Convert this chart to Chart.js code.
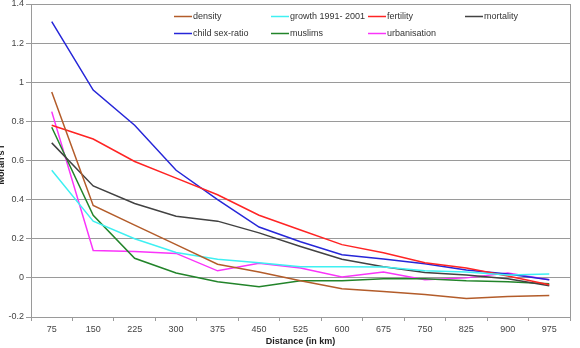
<!DOCTYPE html>
<html>
<head>
<meta charset="utf-8">
<script src="https://cdn.jsdelivr.net/npm/chart.js@4"></script>
<style>
  html, body { margin: 0; padding: 0; background: #fff; }
  canvas { display: block; }
</style>
</head>
<body>
<canvas id="chart" width="580" height="348"></canvas>
<script>
// Distances (km) on the x axis
const distances = ["75", "150", "225", "300", "375", "450", "525", "600", "675", "750", "825", "900", "975"];

// Moran's I per variable
const density       = [0.95, 0.37, 0.27, 0.17, 0.07, 0.03, -0.015, -0.055, -0.07, -0.085, -0.105, -0.095, -0.09];
const growth        = [0.55, 0.29, 0.20, 0.13, 0.095, 0.077, 0.057, 0.057, 0.055, 0.036, 0.03, 0.015, 0.02];
const fertility     = [0.78, 0.71, 0.595, 0.51, 0.425, 0.32, 0.245, 0.17, 0.128, 0.077, 0.05, 0.01, -0.035];
const mortality     = [0.69, 0.47, 0.38, 0.315, 0.29, 0.23, 0.16, 0.095, 0.057, 0.028, 0.015, -0.005, -0.04];
const childSexRatio = [1.31, 0.96, 0.78, 0.55, 0.40, 0.26, 0.185, 0.118, 0.097, 0.072, 0.04, 0.02, -0.01];
const muslims       = [0.77, 0.32, 0.10, 0.025, -0.02, -0.045, -0.015, -0.015, -0.005, -0.005, -0.015, -0.02, -0.03];
const urbanisation  = [0.85, 0.14, 0.135, 0.125, 0.036, 0.075, 0.05, 0.005, 0.03, -0.01, 0.0, 0.025, -0.01];

const yMin = -0.2, yMax = 1.4, yStep = 0.2;

const series = [
  { label: "density",          data: density,       color: "#b35c2a" },
  { label: "growth 1991- 2001", data: growth,       color: "#3ff0f2" },
  { label: "fertility",        data: fertility,     color: "#ff2424" },
  { label: "mortality",        data: mortality,     color: "#424242" },
  { label: "child sex-ratio",  data: childSexRatio, color: "#2626d8" },
  { label: "muslims",          data: muslims,       color: "#22842a" },
  { label: "urbanisation",     data: urbanisation,  color: "#fa34fa" },
];

const GRID = "#9a9a9a";
const FONT = "'Liberation Sans', Arial, sans-serif";

// Legend box drawn inside the plot, top right (like the Excel original)
const legendeInterna = {
  id: "legendeInterna",
  afterDraw(chart) {
    const ctx = chart.ctx;
    const colX = [174, 271, 368, 465];
    const rowY = [16, 33];
    ctx.save();
    ctx.fillStyle = "#fff";
    ctx.fillRect(168, 6, 401, 36);
    ctx.font = "9px " + FONT;
    ctx.textBaseline = "middle";
    ctx.textAlign = "left";
    series.forEach((s, i) => {
      const x = colX[i % 4];
      const y = rowY[Math.floor(i / 4)];
      ctx.strokeStyle = s.color;
      ctx.lineWidth = 1.5;
      ctx.beginPath();
      ctx.moveTo(x, y + 0.5);
      ctx.lineTo(x + 18, y + 0.5);
      ctx.stroke();
      ctx.fillStyle = "#333";
      ctx.fillText(s.label, x + 19, y + 1);
    });
    ctx.restore();
  },
};

// Right border of the plot area + rotated y title (cut at the left edge)
const molduraETitulo = {
  id: "molduraETitulo",
  afterDraw(chart) {
    const { ctx, chartArea: a } = chart;
    ctx.save();
    ctx.strokeStyle = GRID;
    ctx.lineWidth = 1;
    ctx.beginPath();
    ctx.moveTo(Math.round(a.right) + 0.5, a.top);
    ctx.lineTo(Math.round(a.right) + 0.5, a.bottom);
    ctx.stroke();
    ctx.translate(1.5, 165);
    ctx.rotate(-Math.PI / 2);
    ctx.font = "bold 9px " + FONT;
    ctx.fillStyle = "#222";
    ctx.textAlign = "center";
    ctx.textBaseline = "middle";
    ctx.fillText("Moran's I", 0, 0);
    ctx.restore();
  },
};

new Chart(document.getElementById("chart"), {
  type: "line",
  data: {
    labels: distances,
    datasets: series.map(s => ({
      label: s.label,
      data: s.data,
      borderColor: s.color,
      backgroundColor: s.color,
      borderWidth: 1.5,
      pointRadius: 0,
      tension: 0,
      fill: false,
    })),
  },
  options: {
    responsive: false,
    animation: false,
    layout: { padding: { left: 0, right: 10, top: 4, bottom: 0 } },
    plugins: {
      legend: { display: false },
      tooltip: { enabled: false },
    },
    scales: {
      x: {
        type: "category",
        offset: true,
        grid: {
          offset: true,
          drawOnChartArea: false,
          drawTicks: true,
          tickLength: 4,
          color: GRID,
        },
        border: { display: false },
        ticks: {
          color: "#444",
          font: { family: FONT, size: 9 },
          padding: 3,
          maxRotation: 0,
          autoSkip: false,
        },
        title: {
          display: true,
          text: "Distance (in km)",
          color: "#222",
          font: { family: FONT, size: 9, weight: "bold" },
          padding: { top: 0, bottom: 1 },
        },
        afterFit(scale) { scale.height = 31; },
      },
      y: {
        min: yMin,
        max: yMax,
        grid: {
          color: GRID,
          lineWidth: 1,
          drawTicks: true,
          tickLength: 5,
        },
        border: { display: true, color: GRID },
        ticks: {
          stepSize: yStep,
          color: "#444",
          font: { family: FONT, size: 9 },
          padding: 2,
          callback: v => String(Number(v.toFixed(1))),
        },
        afterFit(scale) {
          scale.width = 31;
          scale.paddingTop = 0;
          scale.paddingBottom = 0;
        },
      },
    },
  },
  plugins: [legendeInterna, molduraETitulo],
});
</script>
</body>
</html>
